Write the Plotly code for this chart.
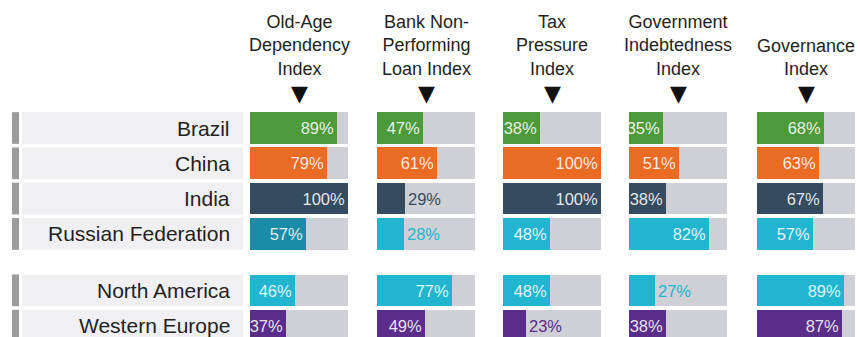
import plotly.graph_objects as go

# ---- data ----
regions = ["Brazil", "China", "India", "Russian Federation", "North America", "Western Europe"]
region_group = [0, 0, 0, 0, 1, 1]
index_names = [
    "Old-Age<br>Dependency<br>Index",
    "Bank Non-<br>Performing<br>Loan Index",
    "Tax<br>Pressure<br>Index",
    "Government<br>Indebtedness<br>Index",
    "Governance<br>Index",
]
old_age_dependency = [89, 79, 100, 57, 46, 37]
bank_npl = [47, 61, 29, 28, 77, 49]
tax_pressure = [38, 100, 100, 48, 48, 23]
government_indebtedness = [35, 51, 38, 82, 27, 38]
governance = [68, 63, 67, 57, 89, 87]
index_values = [old_age_dependency, bank_npl, tax_pressure,
                government_indebtedness, governance]

# ---- styling ----
GREEN, ORANGE, SLATE = "#4d9a3b", "#ea6b24", "#354c60"
TEAL, CYAN, PURPLE = "#1a8ca8", "#22b5cf", "#5a2d8a"
row_colors = [GREEN, ORANGE, SLATE, CYAN, CYAN, PURPLE]
TRACK = "#cfd0d5"
PANEL = "#f0f0f2"
SIDE = "#9c9c9c"
TEXT = "#231f20"
FONT = "Liberation Sans, Arial, sans-serif"

W, H = 860, 337
COL_LEFT = [250, 377, 503, 629, 757]
COL_W = 98
ROW_PX = 35.3        # pixel pitch between rows
FIRST_ROW_PX = 128   # pixel centre of the first row
GROUP_GAP = 0.6      # extra rows of space between the two groups


def color_for(row, col):
    if col == 0 and regions[row] == "Russian Federation":
        return TEAL
    return row_colors[row]


ypos = [i + GROUP_GAP * g for i, g in enumerate(region_group)]

fig = go.Figure()

for c, values in enumerate(index_values):
    xa = "x" if c == 0 else f"x{c + 1}"
    # grey track behind every bar
    fig.add_trace(go.Bar(
        x=[100] * len(regions), y=ypos, orientation="h", xaxis=xa, yaxis="y",
        marker=dict(color=TRACK, line=dict(width=0)), width=0.9,
        hoverinfo="skip", showlegend=False,
    ))
    colors = [color_for(r, c) for r in range(len(regions))]
    fig.add_trace(go.Bar(
        x=values, y=ypos, orientation="h", xaxis=xa, yaxis="y",
        marker=dict(color=colors, line=dict(width=0)), width=0.9,
        text=[f"{v}%" for v in values],
        textposition=["inside" if v >= 30 else "outside" for v in values],
        insidetextanchor="end",
        insidetextfont=dict(family=FONT, size=16.5, color="rgba(255,255,255,0.88)"),
        outsidetextfont=dict(family=FONT, size=16.5, color=colors),
        cliponaxis=False, showlegend=False,
        hovertemplate="%{x}%<extra></extra>",
    ))

layout = dict(
    width=W, height=H, margin=dict(l=0, r=0, t=0, b=0),
    paper_bgcolor="white", plot_bgcolor="rgba(0,0,0,0)",
    barmode="overlay", bargap=0,
    uniformtext=dict(minsize=16, mode="show"),
    yaxis=dict(domain=[0, 1], visible=False,
               range=[(H - FIRST_ROW_PX) / ROW_PX, -FIRST_ROW_PX / ROW_PX]),
)
for c, left in enumerate(COL_LEFT):
    key = "xaxis" if c == 0 else f"xaxis{c + 1}"
    layout[key] = dict(domain=[left / W, (left + COL_W) / W], range=[0, 100],
                       visible=False, anchor="y", fixedrange=True)
fig.update_layout(**layout)

# region label panels
for r, yp in enumerate(ypos):
    fig.add_shape(type="rect", xref="paper", yref="y", x0=22 / W, x1=243 / W,
                  y0=yp - 0.45, y1=yp + 0.45, fillcolor=PANEL,
                  line=dict(width=0), layer="below")
    fig.add_shape(type="rect", xref="paper", yref="y", x0=12 / W, x1=19 / W,
                  y0=yp - 0.45, y1=yp + 0.45, fillcolor=SIDE,
                  line=dict(width=0), layer="below")
    fig.add_annotation(text=regions[r], xref="paper", yref="y", x=232 / W, y=yp,
                       xanchor="right", yanchor="middle", showarrow=False,
                       font=dict(family=FONT, size=21, color=TEXT))

# column headers with pointer triangles
for c, left in enumerate(COL_LEFT):
    cx = (left + COL_W / 2) / W
    fig.add_annotation(text=index_names[c], xref="paper", yref="paper",
                       x=cx, y=1 - 81 / H, xanchor="center", yanchor="bottom",
                       showarrow=False, align="center",
                       font=dict(family=FONT, size=18, color=TEXT))
    fig.add_annotation(text="▼", xref="paper", yref="paper",
                       x=cx, y=1 - 93 / H, xanchor="center", yanchor="middle",
                       showarrow=False,
                       font=dict(family="DejaVu Sans", size=22, color="#111111"))

fig.write_html("out.html")
